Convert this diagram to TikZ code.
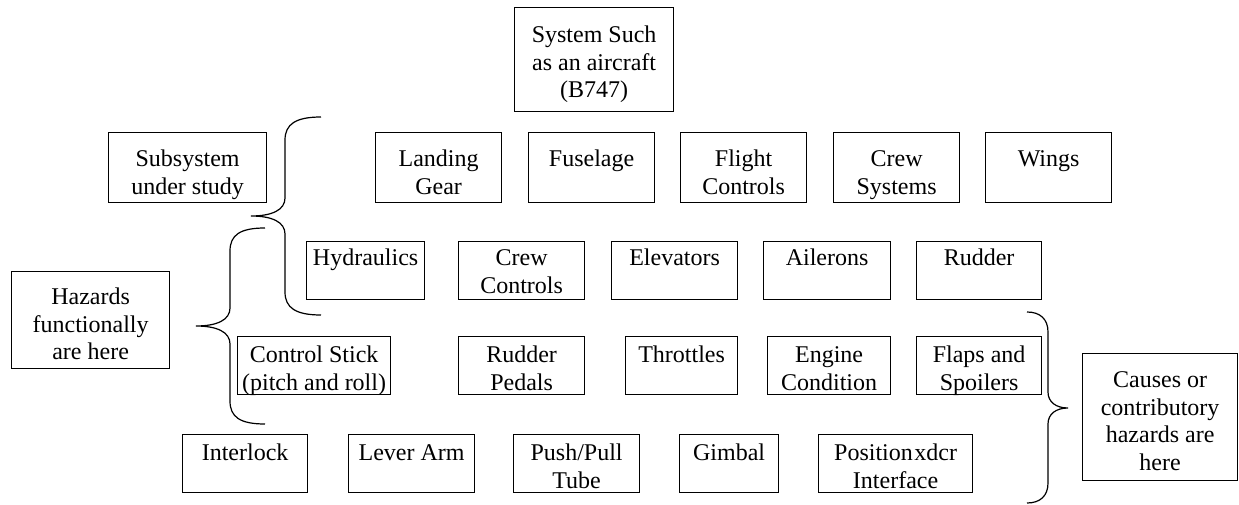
\documentclass[tikz,border=0pt]{standalone}
\usepackage{fontspec}
\setmainfont{Liberation Serif}
\newcommand{\cell}[4]{\parbox[c][#2pt][t]{#1pt}{\centering\rule{0pt}{#3pt}#4}}

\begin{document}
\begin{tikzpicture}[every node/.style={draw,inner sep=0pt,anchor=north west,font=\fontsize{24}{27.5}\selectfont},x=1pt,y=-1pt,line width=1.2pt]
\useasboundingbox (0,0) rectangle (1239,505);
\node at(514,7)(sys){\cell{159}{104}{35}{System Such\\as an aircraft\\(B747)}};
\node at(108,132)(sub){\cell{158}{70}{34}{Subsystem\\under study}};
\node at(375,132)(lgear){\cell{126}{70}{34}{Landing\\Gear}};
\node at(528,132)(fuse){\cell{126}{70}{34}{Fuselage}};
\node at(680,132)(fctl){\cell{126}{70}{34}{Flight\\Controls}};
\node at(833,132)(crews){\cell{126}{70}{34}{Crew\\Systems}};
\node at(985,132)(wings){\cell{126}{70}{34}{Wings}};
\node at(306,241)(hyd){\cell{118}{58}{24}{Hydraulics}};
\node at(458,241)(cctl){\cell{126}{58}{24}{Crew\\Controls}};
\node at(611,241)(elev){\cell{126}{58}{24}{Elevators}};
\node at(763,241)(ail){\cell{127}{58}{24}{Ailerons}};
\node at(916,241)(rud){\cell{125}{58}{24}{Rudder}};
\node at(237,336)(stick){\cell{153}{58}{26}{Control Stick\\(pitch and roll)}};
\node at(458,336)(pedals){\cell{126}{58}{26}{Rudder\\Pedals}};
\node at(625,336)(thr){\cell{112}{58}{26}{Throttles}};
\node at(767,336)(eng){\cell{123}{58}{26}{Engine\\Condition}};
\node at(916,336)(flaps){\cell{125}{58}{26}{Flaps and\\Spoilers}};
\node at(182,434)(lock){\cell{125}{58}{26}{Interlock}};
\node at(348,434)(lever){\cell{126}{58}{26}{Lever Arm}};
\node at(513,434)(push){\cell{126}{58}{26}{Push/Pull\\Tube}};
\node at(679,434)(gimbal){\cell{99}{58}{26}{Gimbal}};
\node at(818,434)(pos){\cell{154}{58}{26}{Position\hspace{1.5pt}xdcr\\Interface}};
\node at(11,271)(haz){\cell{158}{97}{33}{Hazards\\functionally\\are here}};
\node at(1082,353)(cause){\cell{155}{127}{34}{Causes or\\contributory\\hazards are\\here}};
% braces
\draw (321,117) .. controls (296,117) and (285,124) .. (285,140) -- (285,198)
  .. controls (285,210) and (272,216) .. (251,216)
  .. controls (272,216) and (285,222) .. (285,234) -- (285,292)
  .. controls (285,308) and (296,315) .. (321,315);
\draw (265,228) .. controls (240,228) and (230,235) .. (230,251) -- (230,308)
  .. controls (230,320) and (217,326) .. (196,326)
  .. controls (217,326) and (230,332) .. (230,344) -- (230,401)
  .. controls (230,417) and (240,424) .. (265,424);
\draw (1027,312) .. controls (1040,312) and (1048,319) .. (1048,332) -- (1048,392)
  .. controls (1048,402) and (1056,408) .. (1068,408)
  .. controls (1056,408) and (1048,414) .. (1048,424) -- (1048,483)
  .. controls (1048,496) and (1040,503) .. (1027,503);
\end{tikzpicture}
\end{document}
